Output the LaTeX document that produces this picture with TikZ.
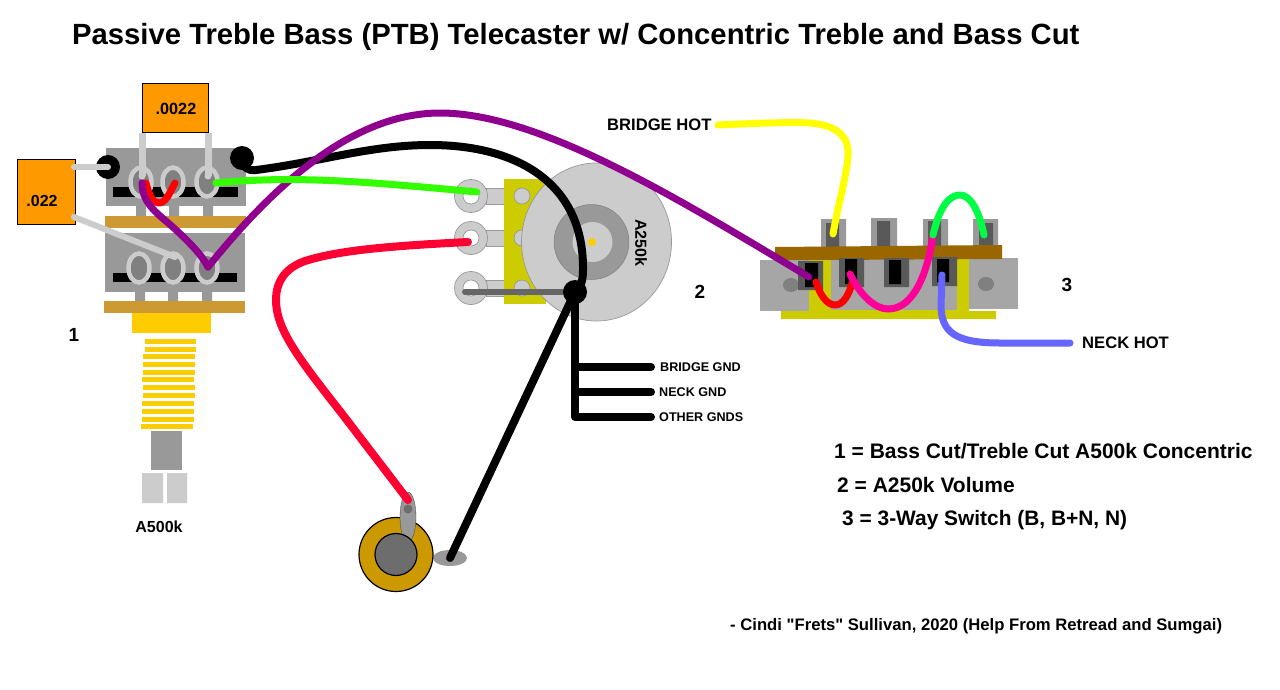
\documentclass[tikz,border=0pt]{standalone}
\usepackage{fontspec}
\setmainfont{Liberation Sans}
\newfontfamily\plainq{Liberation Sans}
\definecolor{capor}{HTML}{FF9900}
\definecolor{deck}{HTML}{999999}
\definecolor{lite}{HTML}{CCCCCC}
\definecolor{lugf}{HTML}{808080}
\definecolor{brass}{HTML}{CC9933}
\definecolor{thread}{HTML}{FFCC00}
\definecolor{potbody}{HTML}{CCCC00}
\definecolor{swgray}{HTML}{A6A6A6}
\definecolor{tabout}{HTML}{999999}
\definecolor{tabin}{HTML}{595959}
\definecolor{brownbar}{HTML}{996600}
\definecolor{jackring}{HTML}{CC9900}
\definecolor{wdark}{HTML}{666666}
\definecolor{wpurple}{HTML}{8F008F}
\definecolor{wgreen}{HTML}{33FF00}
\definecolor{wgreenb}{HTML}{00FF44}
\definecolor{wred}{HTML}{FF0000}
\definecolor{wcrim}{HTML}{FF0033}
\definecolor{wpink}{HTML}{FF0099}
\definecolor{wblue}{HTML}{6666FF}
\definecolor{wyellow}{HTML}{FFFF00}
\tikzset{
  wire/.style={line width=#1,line cap=round,line join=round},
  wire/.default=7pt,
  lbl/.style={inner sep=0pt,font=\bfseries\fontsize{#1}{#1}\selectfont},
  capbox/.style={draw=black,line width=1.5pt,fill=capor,outer sep=0pt,inner sep=0pt},
  lug/.style={draw=lite,line width=4.5pt,fill=lugf},
  potlug/.style={draw=deck,line width=.7pt,fill=lite}
}
\begin{document}
\begin{tikzpicture}[x=1pt,y=-1pt]
\useasboundingbox (0,0) rectangle (1280,689);
\fill[white] (0,0) rectangle (1280,689);
% coordinates
\coordinate (dotL) at (108,167);
\coordinate (dotR) at (242,158);
\coordinate (u1) at (142,183);
\coordinate (u2) at (175,183);
\coordinate (u3) at (207,182);
\coordinate (l2) at (175,257);
\coordinate (l3) at (208,267);
\coordinate (capA1) at (142,133);
\coordinate (capA2) at (208,133);
\coordinate (capA1e) at (142,176);
\coordinate (capA2e) at (208,176);
\coordinate (capBt) at (74,167);
\coordinate (capBb) at (74,217);
\coordinate (pot1) at (477,192);
\coordinate (pot2) at (468,242);
\coordinate (pot3) at (465,292);
\coordinate (gnd) at (575,292);
\coordinate (jtab) at (408,500);
\coordinate (jgnd) at (450,558);
\coordinate (g1) at (575,367);
\coordinate (g2) at (575,392);
\coordinate (g3) at (575,417);
\coordinate (g1e) at (651,367);
\coordinate (g2e) at (651,392);
\coordinate (g3e) at (651,417);
\coordinate (swA) at (809,277);
\coordinate (swB) at (816,282);
\coordinate (swC) at (850,274);
\coordinate (swC2) at (852,283);
\coordinate (swD) at (942,275);
\coordinate (swT1) at (833,234);
\coordinate (swT3) at (933,235);
\coordinate (swT4) at (984,235);
% --- concentric pot
\fill[deck] (136,206) rectangle (146,216) (169,206) rectangle (179,216) (203,206) rectangle (213,216);
\fill[deck] (106,148) rectangle (246,206);
\fill[black] (113,187) rectangle (238,197);
\fill[brass] (105,216) rectangle (246,228);
\fill[deck] (135,292) rectangle (145,301) (168,292) rectangle (178,301) (202,292) rectangle (212,301);
\fill[deck] (105,233) rectangle (245,292);
\fill[black] (113,273) rectangle (237,282);
\fill[brass] (104,301) rectangle (245,313);
\fill[thread] (132,313) rectangle (211,333);
\foreach \a/\b/\c in {145/196/339,145/196/347,143/195/354,143/195/362,143/195/370,142/194/377,143/195/385,143/195/393,142/194/401,142/194/409,142/194/417,141/193/424}{
  \fill[thread] (\a,\c) rectangle (\b,\c+4.6);
}
\fill[deck] (151,431) rectangle (182,470);
\fill[lite] (142,473) rectangle (163,503) (167,473) rectangle (187,503);
\foreach \p in {141,173,207}{\draw[lug] (\p,182) ellipse [x radius=10.5,y radius=14.5];}
\foreach \p in {139,173,207}{\draw[lug] (\p,268) ellipse [x radius=10.5,y radius=14.5];}
% eyelet dots
\fill[black] (dotL) circle (12);
\fill[black] (dotR) circle (12);
\fill[white] (dotR) circle (1.3);
% capacitors
\node[capbox,minimum width=66pt,minimum height=49pt] (capA) at (175.5,108) {};
\node[lbl=16.2] (capAl) at (176,109) {.0022};
\node[capbox,minimum width=58pt,minimum height=65pt] (capB) at (46.5,192) {};
\node[lbl=16] (capBl) at (42,201) {.022};
\draw[wire,lite,line cap=butt] (capA1) -- (capA1e);
\draw[wire,lite,line cap=butt] (capA2) -- (capA2e);
\fill[lite] (capA1e) circle (3.5) (capA2e) circle (3.5);
\draw[wire=6pt,lite] (capBt) -- (dotL);
\draw[wire=6pt,lite] (capBb) -- (l2);
% --- volume pot
\foreach \y in {196,238,288}{
  \draw[potlug,fill=lite] (486,\y-8) rectangle (505,\y+8);
  \draw[potlug] (471,\y) circle (16.5);
  \draw[potlug,fill=white] (471,\y) circle (8);
}
\fill[potbody] (504,179) rectangle (546,304);
\foreach \y in {196,238,288}{\draw[potlug] (522,\y) circle (8);}
\draw[potlug] (596.5,242) ellipse [x radius=75,y radius=79];
\draw[lugf,fill=deck,line width=.5pt] (591.5,242) circle (37.5);
\fill[lite] (592.5,242) circle (20);
\fill[thread] (592,242) circle (4);
\node[lbl=16,rotate=-90] (potval) at (641,243) {A250k};
% --- jack
\fill[deck] (jgnd) ellipse [x radius=17,y radius=8];
\draw[black,fill=jackring,line width=1.2pt] (396,554.5) circle (37);
\draw[lugf!50!black,fill=deck,line width=.3pt] (408,517) ellipse [x radius=8,y radius=25];
\fill[lugf!85!black] (408,509) circle (4.5);
\draw[black,fill=lugf!85!black,line width=1.2pt] (396,554.5) circle (21);
% --- switch
\fill[potbody] (809,258) rectangle (969,311) (781,311) rectangle (996,319);
\fill[swgray] (760,260) rectangle (809,311);
\fill[swgray] (969,258) rectangle (1018,309);
\fill[swgray] (831,258) rectangle (957,310);
\fill[lugf] (791,285) ellipse [x radius=8,y radius=7];
\fill[lugf] (986,284) ellipse [x radius=8,y radius=7];
\fill[tabout] (821,219) rectangle (846,248) (871,218) rectangle (897,246) (923,219) rectangle (948,248) (973,219) rectangle (998,248);
\fill[tabin] (826,223) rectangle (839,248) (877,221) rectangle (890,246) (928,221) rectangle (941,248) (979,223) rectangle (993,248);
\fill[brownbar] (775,247) -- (1002,245) -- (1002,259) -- (823,260) -- (775,260) -- cycle;
\fill[tabin] (798,261) rectangle (823,290) (839,258) rectangle (864,287) (884,258) rectangle (909,287) (932,257) rectangle (957,286);
\fill[black] (805,263) rectangle (818,287) (845,259) rectangle (857,284) (889,260) rectangle (901,284) (937,259) rectangle (949,282);
% --- wires
\draw[wire=8pt,black] (dotR) .. controls (243,168) and (248,171) .. (256,170)
   .. controls (320,162) and (370,145) .. (430,145)
   .. controls (520,145) and (584,185) .. (583,270) .. controls (583,280) and (581,288) .. (gnd);
\draw[wire=6pt,wdark] (pot3) -- (gnd);
\fill[black] (gnd) circle (12);
\draw[wire=8pt,black] (gnd) -- (jgnd);
\draw[wire=8pt,black] (gnd) -- (g3) -- (g3e);
\draw[wire=8pt,black] (g1) -- (g1e);
\draw[wire=8pt,black] (g2) -- (g2e);
\draw[wire,wred] (146,183) .. controls (149,195) and (153,203) .. (159,203) .. controls (166,203) and (170,192) .. (u2);
\draw[wire,wpurple] (u1) .. controls (142,205) and (160,215) .. (175,229) .. controls (190,243) and (202,255) .. (l3);
\draw[wire,wpurple] (l3) .. controls (270,190) and (350,113) .. (440,113) .. controls (540,113) and (680,200) .. (swA);
\draw[wire,wgreen] (216,183) .. controls (290,176) and (350,180) .. (pot1);
\draw[wire=8pt,wcrim] (pot2) .. controls (390,246) and (340,250) .. (305,261) .. controls (285,268) and (276,282) .. (276,300) .. controls (276,330) and (300,360) .. (343,415) -- (jtab);
\draw[wire,wyellow] (718,125) .. controls (760,123) and (790,122) .. (810,123) .. controls (835,125) and (849,135) .. (848,155) .. controls (847,175) and (838,205) .. (swT1);
\draw[wire,wred] (swB) .. controls (820,295) and (827,305) .. (835,305) .. controls (843,305) and (849,295) .. (swC2);
\draw[wire,wpink] (swC) .. controls (860,295) and (875,309) .. (888,309) .. controls (915,309) and (928,270) .. (swT3);
\draw[wire,wgreenb] (swT3) .. controls (940,205) and (950,195) .. (960,195) .. controls (970,195) and (979,210) .. (swT4);
\draw[wire,wblue] (swD) -- (941,305) .. controls (941,332) and (955,343) .. (1000,343) -- (1070,343);
% --- text
\node[lbl=29.25,anchor=west] (title) at (72,36.5) {Passive Treble Bass (PTB) Telecaster w/ Concentric Treble and Bass Cut};
\node[lbl=16.6,anchor=west] (bh) at (607,125) {BRIDGE HOT};
\node[lbl=16.6,anchor=west] (nh) at (1082,343) {NECK HOT};
\node[lbl=12.6,anchor=west] (t1) at (660,367) {BRIDGE GND};
\node[lbl=12.6,anchor=west] (t2) at (659,392) {NECK GND};
\node[lbl=12.6,anchor=west] (t3) at (659,417) {OTHER GNDS};
\node[lbl=16] (a5) at (159,527) {A500k};
\node[lbl=19] (n1) at (74,335) {1};
\node[lbl=19] (n2) at (700,292) {2};
\node[lbl=19] (n3) at (1067,285) {3};
\node[lbl=21,anchor=west] (k1) at (834,451) {1 = Bass Cut/Treble Cut A500k Concentric};
\node[lbl=21,anchor=west] (k2) at (837,485) {2 = A250k Volume};
\node[lbl=20.9,anchor=west] (k3) at (842,520.5) {3 = 3-Way Switch (B, B+N, N)};
\node[lbl=16.67,anchor=west] (cr) at (730,626) {- Cindi {\plainq\bfseries"}Frets{\plainq\bfseries"} Sullivan, 2020 (Help From Retread and Sumgai)};
\end{tikzpicture}
\end{document}
